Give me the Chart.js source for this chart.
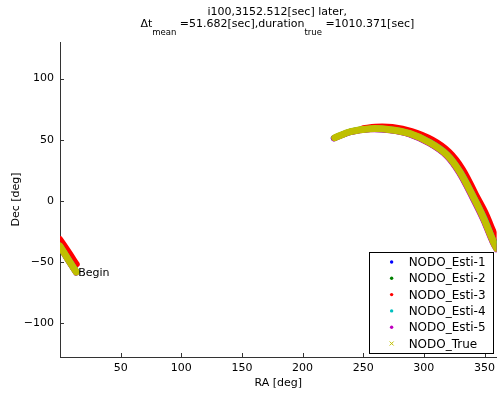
<!DOCTYPE html>
<html>
<head>
<meta charset="utf-8">
<script src="https://cdn.jsdelivr.net/npm/chart.js@4/dist/chart.umd.min.js"></script>
<style>
  html, body { margin: 0; padding: 0; background: #fff; }
  #wrap { width: 500px; height: 394px; }
</style>
</head>
<body>
<div id="wrap"><canvas id="myChart" width="500" height="394"></canvas></div>
<script>
// values (RA / Dec in degrees), null = wrap-around gap
var esti1RA  = [13.3, 6.6, 0, null, 360, 357.1, 348.9, 340.7, 329.2, 318.6, 304.7, 288.3, 272.1, 255.8, 239.4, 225.7];
var esti1Dec = [-58.7, -48.5, -37.6, null, -39.5, -34.1, -14.6, 2.0, 23.4, 37.3, 47.2, 54.6, 57.9, 58.7, 56.3, 51.2];
var esti2RA  = [13.6, 7.1, 0, null, 360, 357.8, 349.7, 341.6, 330.1, 319.4, 305.5, 289.1, 272.7, 256.3, 240.0, 227.0];
var esti2Dec = [-58.0, -47.6, -36.5, null, -37.8, -33.0, -13.4, 3.0, 24.2, 38.2, 48.0, 55.2, 58.4, 59.1, 56.8, 51.8];
var esti3RA  = [13.8, 7.2, 0, null, 360, 355.6, 351.0, 343.0, 332.0, 321.0, 307.0, 290.0, 274.0, 260.0, 250.0];
var esti3Dec = [-52.0, -42.0, -31.5, null, -31.0, -21.0, -10.0, 5.0, 26.0, 40.0, 50.0, 57.0, 60.3, 60.6, 59.3];
var esti4RA  = [13.5, 7.0, 0, null, 360, 357.6, 349.5, 341.4, 329.9, 319.2, 305.3, 288.9, 272.5, 256.2, 239.8, 226.8];
var esti4Dec = [-58.2, -47.8, -36.8, null, -38.2, -33.2, -13.6, 2.8, 24.0, 38.0, 47.8, 55.0, 58.3, 59.0, 56.7, 51.7];
var esti5RA  = [13.3, 6.7, 0, null, 360, 356.9, 348.7, 340.5, 329.0, 318.4, 304.5, 288.1, 271.9, 255.6, 239.3, 225.9];
var esti5Dec = [-58.8, -48.6, -37.8, null, -39.9, -34.5, -15.0, 1.6, 23.0, 37.0, 46.9, 54.4, 57.7, 58.5, 56.2, 51.1];
var trueRA   = [13.4, 6.8, 0, null, 360, 357.3, 349.1, 341.0, 329.5, 318.9, 305.0, 288.6, 272.3, 256.0, 239.6, 226.5];
var trueDec  = [-58.5, -48.2, -37.3, null, -39.0, -33.6, -14.0, 2.5, 23.8, 37.7, 47.5, 54.9, 58.2, 59.0, 56.6, 51.6];

var seriesNames  = ["NODO_Esti-1", "NODO_Esti-2", "NODO_Esti-3", "NODO_Esti-4", "NODO_Esti-5", "NODO_True"];
var seriesColors = ["#0000ff", "#008000", "#ff0000", "#00bfbf", "#bf00bf", "#bfbf00"];
var xTicks = [50, 100, 150, 200, 250, 300, 350];
var yTicks = [-100, -50, 0, 50, 100];
var beginPoint = [13.4, -58.5];

var titleLine1 = "i100,3152.512[sec] later,";
var FONT = "'DejaVu Sans', sans-serif";

function toPoints(ra, dec) {
    var pts = [];
    for (var i = 0; i < ra.length; i++) {
        pts.push({ x: ra[i], y: dec[i] });
    }
    return pts;
}

var allRA = [esti1RA, esti2RA, esti3RA, esti4RA, esti5RA, trueRA];
var allDec = [esti1Dec, esti2Dec, esti3Dec, esti4Dec, esti5Dec, trueDec];
var widths = [6, 6, 6, 6, 6, 7];

var datasets = [];
for (var s = 0; s < seriesNames.length; s++) {
    datasets.push({
        label: seriesNames[s],
        data: toPoints(allRA[s], allDec[s]),
        borderColor: seriesColors[s],
        backgroundColor: seriesColors[s],
        borderWidth: widths[s],
        borderCapStyle: 'round',
        borderJoinStyle: 'round',
        showLine: true,
        spanGaps: false,
        tension: 0.35,
        pointRadius: 0,
        pointHoverRadius: 0,
        order: seriesNames.length - s   // later series drawn on top, like matlab
    });
}

var decorPlugin = {
    id: 'decor',
    afterDraw: function (chart) {
        var ctx = chart.ctx;
        var area = chart.chartArea;
        var xs = chart.scales.x, ys = chart.scales.y;
        ctx.save();
        // inward tick marks
        ctx.strokeStyle = '#333';
        ctx.lineWidth = 1;
        ctx.beginPath();
        xTicks.forEach(function (v) {
            var px = Math.round(xs.getPixelForValue(v)) + 0.5;
            ctx.moveTo(px, area.bottom);
            ctx.lineTo(px, area.bottom - 4);
        });
        yTicks.forEach(function (v) {
            var py = Math.round(ys.getPixelForValue(v)) + 0.5;
            ctx.moveTo(area.left, py);
            ctx.lineTo(area.left + 4, py);
        });
        ctx.stroke();

        // Begin label
        ctx.fillStyle = '#000';
        ctx.font = "11px " + FONT;
        ctx.textBaseline = 'middle';
        ctx.textAlign = 'left';
        ctx.fillText("Begin", xs.getPixelForValue(beginPoint[0]) + 2, ys.getPixelForValue(beginPoint[1]) + 1);

        // title
        var cx = (area.left + area.right) / 2 - 1;
        ctx.textBaseline = 'alphabetic';
        ctx.textAlign = 'center';
        ctx.font = "11px " + FONT;
        ctx.fillText(titleLine1, cx, 15);
        var parts = [["\u0394t", 0], ["mean", 1], [" =51.682[sec],duration", 0], ["true", 1], [" =1010.371[sec]", 0]];
        var total = 0;
        parts.forEach(function (p) {
            ctx.font = (p[1] ? "8.5px " : "11px ") + FONT;
            p.push(ctx.measureText(p[0]).width);
            total += p[2];
        });
        var x0 = cx - total / 2;
        ctx.textAlign = 'left';
        parts.forEach(function (p) {
            ctx.font = (p[1] ? "8.5px " : "11px ") + FONT;
            ctx.fillText(p[0], x0, p[1] ? 35 : 27);
            x0 += p[2];
        });

        // legend box
        var bw = 124, bh = 101;
        var bx = area.right - 4 - bw, by = area.bottom - 4 - bh;
        ctx.fillStyle = '#fff';
        ctx.fillRect(bx, by, bw, bh);
        ctx.strokeStyle = '#000';
        ctx.strokeRect(Math.round(bx) + 0.5, Math.round(by) + 0.5, bw, bh);
        ctx.font = "12px " + FONT;
        ctx.textBaseline = 'middle';
        chart.data.datasets.forEach(function (ds, i) {
            var yy = by + 10 + i * 16.3;
            ctx.fillStyle = ds.borderColor;
            if (i < 5) {
                ctx.beginPath();
                ctx.arc(bx + 23, yy, 1.7, 0, Math.PI * 2);
                ctx.fill();
            } else {
                ctx.strokeStyle = ds.borderColor;
                ctx.beginPath();
                ctx.moveTo(bx + 21, yy - 2); ctx.lineTo(bx + 25, yy + 2);
                ctx.moveTo(bx + 25, yy - 2); ctx.lineTo(bx + 21, yy + 2);
                ctx.stroke();
            }
            ctx.fillStyle = '#000';
            ctx.fillText(ds.label, bx + 40, yy + 1);
        });
        ctx.restore();
    }
};

var chart = new Chart("myChart", {
    type: "scatter",
    data: { datasets: datasets },
    plugins: [decorPlugin],
    options: {
        responsive: false,
        animation: false,
        layout: { padding: { top: 42, right: 0, bottom: 0, left: 0 } },
        plugins: { legend: { display: false }, tooltip: { enabled: false }, title: { display: false } },
        scales: {
            x: {
                type: 'linear',
                min: 0, max: 360,
                afterBuildTicks: function (scale) { scale.ticks = xTicks.map(function (v) { return { value: v }; }); },
                afterFit: function (scale) { scale.height = 37; },
                grid: { display: false, drawTicks: false },
                border: { display: true, color: '#333', width: 1 },
                ticks: { color: '#000', font: { family: FONT, size: 11 }, padding: 5, maxRotation: 0 },
                title: { display: true, text: 'RA [deg]', color: '#000', font: { family: FONT, size: 11 }, padding: { top: 0, bottom: 4 } }
            },
            y: {
                type: 'linear',
                min: -128, max: 130,
                afterBuildTicks: function (scale) { scale.ticks = yTicks.map(function (v) { return { value: v }; }); },
                afterFit: function (scale) { scale.width = 60; },
                grid: { display: false, drawTicks: false },
                border: { display: true, color: '#333', width: 1 },
                ticks: { color: '#000', font: { family: FONT, size: 11 }, padding: 6,
                         callback: function (v) { return v < 0 ? '\u2212' + Math.abs(v) : v; } },
                title: { display: true, text: 'Dec [deg]', color: '#000', font: { family: FONT, size: 11 }, padding: { top: 10, bottom: 0 } }
            }
        }
    }
});
</script>
</body>
</html>
